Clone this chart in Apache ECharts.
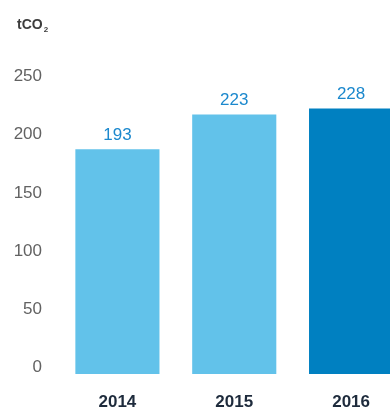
<!DOCTYPE html>
<html>
<head>
<meta charset="utf-8">
<script src="https://cdn.jsdelivr.net/npm/echarts@6/dist/echarts.min.js"></script>
<style>
  html, body { margin: 0; padding: 0; background: #fff; }
  #chart { width: 390px; height: 411px; }
</style>
</head>
<body>
<div id="chart"></div>
<script>
// Annual emissions, tonnes of CO2
const years = ['2014', '2015', '2016'];
const emissions = [193, 223, 228];
const yTicks = [0, 50, 100, 150, 200, 250];

const lightBlue = '#62c2ea';
const darkBlue = '#0080c1';
const FONT = '"Liberation Sans", Arial, Helvetica, sans-serif';

const chart = echarts.init(document.getElementById('chart'), null, { renderer: 'canvas' });

chart.setOption({
  animation: false,
  backgroundColor: '#ffffff',
  textStyle: { fontFamily: FONT },
  title: {
    text: '{a|tCO}{b|2}',
    left: 12,
    top: 11,
    textStyle: {
      rich: {
        a: { fontFamily: FONT, fontSize: 14, fontWeight: 'bold', color: '#3d3d3d', lineHeight: 18 },
        b: { fontFamily: FONT, fontSize: 8, fontWeight: 'bold', color: '#3d3d3d', padding: [10, 0, 0, 1], lineHeight: 18 }
      }
    }
  },
  // the last column runs past the right edge of the canvas
  grid: { left: 59, right: -19.5, top: 83, bottom: 37, containLabel: false, outerBoundsMode: 'none' },
  xAxis: {
    type: 'category',
    data: years,
    axisLine: { show: false },
    axisTick: { show: false },
    axisLabel: {
      margin: 20,
      fontFamily: FONT,
      fontSize: 17,
      fontWeight: 'bold',
      color: '#1e2b3c'
    }
  },
  yAxis: {
    type: 'value',
    min: yTicks[0],
    max: yTicks[yTicks.length - 1],
    interval: 50,
    splitLine: { show: false },
    axisLine: { show: false },
    axisTick: { show: false },
    axisLabel: {
      margin: 17,
      fontFamily: FONT,
      fontSize: 17,
      color: '#626262',
      verticalAlign: 'bottom',
      lineHeight: 13
    }
  },
  series: [{
    type: 'bar',
    barWidth: '72%',
    data: emissions.map((v, i) => ({
      value: v,
      itemStyle: { color: i === emissions.length - 1 ? darkBlue : lightBlue }
    })),
    label: {
      show: true,
      position: 'top',
      distance: 6,
      fontFamily: FONT,
      fontSize: 17,
      color: '#1b88cd'
    }
  }]
});
</script>
</body>
</html>
